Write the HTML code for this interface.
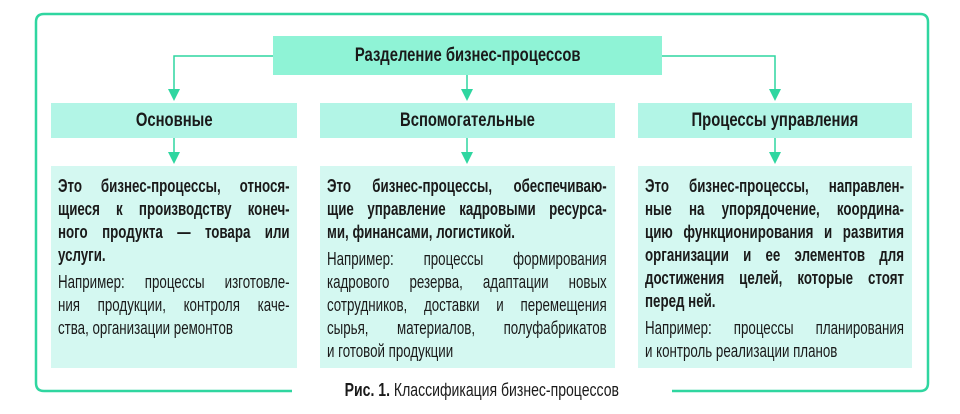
<!DOCTYPE html>
<html><head><meta charset="utf-8"><style>
body{margin:0;width:960px;height:414px;background:#fff;position:relative;overflow:hidden;font-family:"Liberation Sans",sans-serif;color:#1a1a1a}
.a{position:absolute}
.s{display:inline-block;transform:scaleX(0.78)}
.top{left:273px;top:36px;width:389px;height:39px;background:#8ff3d6;font-weight:bold;font-size:19px;text-align:center;line-height:39px}
.mid{top:103px;height:35px;background:#b2f5e6;font-weight:bold;font-size:19px;text-align:center;line-height:36px}
.bot{top:166px;height:202px;background:#d4f8f1;padding:9px 0 0 7px;box-sizing:border-box}
.in{transform:scaleX(0.74);transform-origin:0 0;font-size:18px;line-height:23px}
.in div{white-space:nowrap;text-align:left}
.in .j{text-align:justify;text-align-last:justify;white-space:normal}
.b{font-weight:bold}
.gap{height:4px}
</style></head><body>
<svg class="a" style="left:0;top:0" width="960" height="414">
<path d="M292 391 H44 Q36 391 36 383 V22 Q36 14 44 14 H920 Q928 14 928 22 V383 Q928 391 920 391 H672" fill="none" stroke="#2fd6a0" stroke-width="2.5"/>
<g stroke="#2fd6a0" stroke-width="1.5" fill="none">
<path d="M273 56 H174 V95"/><path d="M662 56 H775 V95"/><path d="M467 75 V95"/>
<path d="M174 138 V158"/><path d="M467 138 V158"/><path d="M775 138 V158"/>
</g>
<g fill="#2fd6a0">
<path d="M168 89 L180 89 L174 101Z"/><path d="M461 89 L473 89 L467 101Z"/><path d="M769 89 L781 89 L775 101Z"/>
<path d="M168 152 L180 152 L174 164Z"/><path d="M461 152 L473 152 L467 164Z"/><path d="M769 152 L781 152 L775 164Z"/>
</g>
</svg>
<div class="a top"><span class="s">Разделение бизнес-процессов</span></div>
<div class="a mid" style="left:51px;width:246px"><span class="s">Основные</span></div>
<div class="a mid" style="left:320px;width:295px"><span class="s">Вспомогательные</span></div>
<div class="a mid" style="left:638px;width:274px"><span class="s">Процессы управления</span></div>

<div class="a bot" style="left:51px;width:246px"><div class="in" style="width:313px">
<div class="j b">Это бизнес-процессы, относя-</div>
<div class="j b">щиеся к производству конеч-</div>
<div class="j b">ного продукта — товара или</div>
<div class="b">услуги.</div>
<div class="gap"></div>
<div class="j">Например: процессы изготовле-</div>
<div class="j">ния продукции, контроля каче-</div>
<div>ства, организации ремонтов</div>
</div></div>

<div class="a bot" style="left:320px;width:295px"><div class="in" style="width:378px">
<div class="j b">Это бизнес-процессы, обеспечиваю-</div>
<div class="j b">щие управление кадровыми ресурса-</div>
<div class="b">ми, финансами, логистикой.</div>
<div class="gap"></div>
<div class="j">Например: процессы формирования</div>
<div class="j">кадрового резерва, адаптации новых</div>
<div class="j">сотрудников, доставки и перемещения</div>
<div class="j">сырья, материалов, полуфабрикатов</div>
<div>и готовой продукции</div>
</div></div>

<div class="a bot" style="left:638px;width:274px"><div class="in" style="width:350px">
<div class="j b">Это бизнес-процессы, направлен-</div>
<div class="j b">ные на упорядочение, координа-</div>
<div class="j b">цию функционирования и развития</div>
<div class="j b">организации и ее элементов для</div>
<div class="j b">достижения целей, которые стоят</div>
<div class="b">перед ней.</div>
<div class="gap"></div>
<div class="j">Например: процессы планирования</div>
<div>и контроль реализации планов</div>
</div></div>

<div class="a" style="left:292px;width:380px;top:380px;text-align:center;font-size:18px;line-height:20px"><span class="s"><b>Рис. 1.</b> Классификация бизнес-процессов</span></div>
</body></html>
